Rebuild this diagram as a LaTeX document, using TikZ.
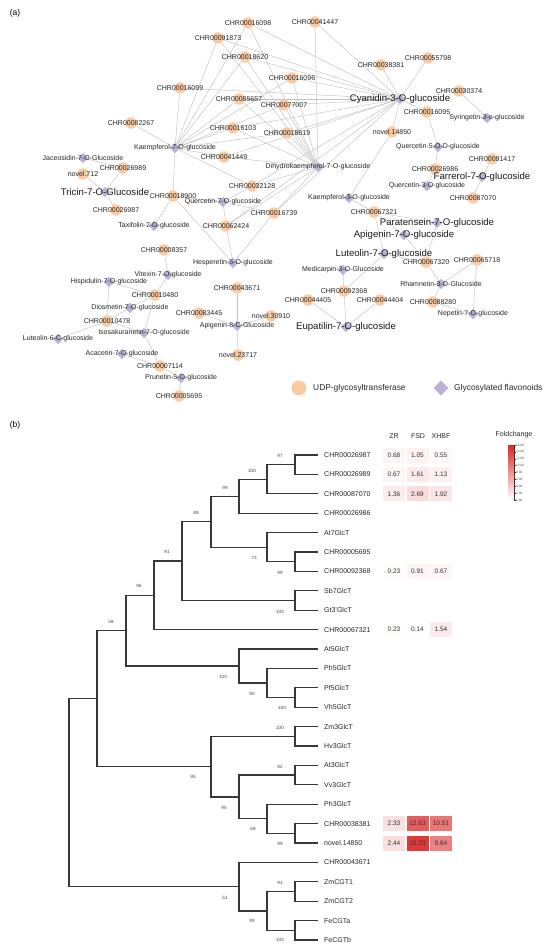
\documentclass[tikz,border=0pt]{standalone}
\usepackage{fontspec}
\setmainfont{Liberation Sans}
\usepackage{tikz}
\usetikzlibrary{shapes.geometric, backgrounds}
\definecolor{ugtfill}{RGB}{250,203,163}
\definecolor{flvfill}{RGB}{187,177,213}
\definecolor{hm}{RGB}{222,38,38}

\begin{document}
\begin{tikzpicture}[x=1pt, y=-1pt]
		\tikzset{ugt/.style={circle, fill=ugtfill, inner sep=0, minimum size=11.5pt}}
		\tikzset{flv/.style={diamond, fill=flvfill, inner sep=0, minimum size=10.5pt}}
		\tikzset{lab/.style={font=\fontsize{7}{8}\selectfont, text=black!85, inner sep=0}}
		\tikzset{biglab/.style={font=\fontsize{9.6}{11}\selectfont, text=black!90, inner sep=0}}
		\tikzset{link/.style={draw=black!24, line width=0.45pt}}
		\tikzset{branch/.style={draw=black!78, line width=1.25pt}}
		\tikzset{leaf/.style={anchor=west, inner xsep=6pt, inner ysep=0, font=\fontsize{7}{8}\selectfont, text=black!85}}
		\tikzset{boot/.style={font=\fontsize{4.6}{5}\selectfont, text=black!75, inner sep=0}}
		\tikzset{cell/.style={minimum width=22pt, minimum height=15pt, inner sep=0, font=\fontsize{6.5}{7}\selectfont, text=black!80}}
		\tikzset{panel/.style={font=\fontsize{8.5}{10}\selectfont, inner sep=0}}
		\useasboundingbox (0,0) rectangle (550,952);
		\node[panel] at (15,13) (pa) {(a)};
		\node[panel] at (15,425) (pb) {(b)};
		% UDP-glycosyltransferases
		\node[ugt, label={[lab]center:CHR00016098}] at (248,23) (g16098) {};
		\node[ugt, label={[lab]center:CHR00091873}] at (218,38) (g91873) {};
		\node[ugt, label={[lab]center:CHR00041447}] at (315,22) (g41447) {};
		\node[ugt, label={[lab]center:CHR00018620}] at (245,57) (g18620) {};
		\node[ugt, label={[lab]center:CHR00055798}] at (428,58) (g55798) {};
		\node[ugt, label={[lab]center:CHR00038381}] at (381,65) (g38381) {};
		\node[ugt, label={[lab]center:CHR00016096}] at (292,78) (g16096) {};
		\node[ugt, label={[lab]center:CHR00016099}] at (180,88) (g16099) {};
		\node[ugt, label={[lab]center:CHR00030374}] at (459,91) (g30374) {};
		\node[ugt, label={[lab]center:CHR00085657}] at (239,99) (g85657) {};
		\node[ugt, label={[lab]center:CHR00077007}] at (284,105) (g77007) {};
		\node[ugt, label={[lab]center:CHR00016095}] at (427,112) (g16095) {};
		\node[ugt, label={[lab]center:CHR00082267}] at (131,123) (g82267) {};
		\node[ugt, label={[lab]center:CHR00016103}] at (233,128) (g16103) {};
		\node[ugt, label={[lab]center:CHR00018619}] at (287,133) (g18619) {};
		\node[ugt, label={[lab]center:novel.14850}] at (392,132) (gn14850) {};
		\node[ugt, label={[lab]center:CHR00041449}] at (224,157) (g41449) {};
		\node[ugt, label={[lab]center:CHR00026989}] at (123,168) (g26989) {};
		\node[ugt, label={[lab]center:novel.712}] at (83,174) (gn712) {};
		\node[ugt, label={[lab]center:CHR00091417}] at (492,159) (g91417) {};
		\node[ugt, label={[lab]center:CHR00026986}] at (435,169) (g26986) {};
		\node[ugt, label={[lab]center:CHR00032128}] at (252,186) (g32128) {};
		\node[ugt, label={[lab]center:CHR00018900}] at (173,196) (g18900) {};
		\node[ugt, label={[lab]center:CHR00087070}] at (473,198) (g87070) {};
		\node[ugt, label={[lab]center:CHR00026987}] at (116,210) (g26987) {};
		\node[ugt, label={[lab]center:CHR00016739}] at (274,213) (g16739) {};
		\node[ugt, label={[lab]center:CHR00067321}] at (374,212) (g67321) {};
		\node[ugt, label={[lab]center:CHR00062424}] at (226,226) (g62424) {};
		\node[ugt, label={[lab]center:CHR00008357}] at (164,250) (g8357) {};
		\node[ugt, label={[lab]center:CHR00067320}] at (426,262) (g67320) {};
		\node[ugt, label={[lab]center:CHR00065718}] at (477,260) (g65718) {};
		\node[ugt, label={[lab]center:CHR00043671}] at (237,288) (g43671) {};
		\node[ugt, label={[lab]center:CHR00092368}] at (344,291) (g92368) {};
		\node[ugt, label={[lab]center:CHR00010480}] at (155,295) (g10480) {};
		\node[ugt, label={[lab]center:CHR00044405}] at (308,300) (g44405) {};
		\node[ugt, label={[lab]center:CHR00044404}] at (380,300) (g44404) {};
		\node[ugt, label={[lab]center:CHR00088280}] at (433,302) (g88280) {};
		\node[ugt, label={[lab]center:CHR00083445}] at (199,313) (g83445) {};
		\node[ugt, label={[lab]center:novel.30910}] at (271,316) (gn30910) {};
		\node[ugt, label={[lab]center:CHR00010478}] at (107,321) (g10478) {};
		\node[ugt, label={[lab]center:novel.23717}] at (238,355) (gn23717) {};
		\node[ugt, label={[lab]center:CHR00007114}] at (160,366) (g7114) {};
		\node[ugt, label={[lab]center:CHR00005695}] at (179,396) (g5695) {};
		% glycosylated flavonoids
		\node[flv, label={[biglab]center:Cyanidin-3-O-glucoside}] at (400,99) (cya) {};
		\node[flv, label={[lab]center:Syringetin-3-o-glucoside}] at (487,118) (syr) {};
		\node[flv, label={[lab]center:Kaempferol-7-O-glucoside}] at (175,148) (kae7) {};
		\node[flv, label={[lab]center:Quercetin-5-O-D-glucoside}] at (438,147) (q5d) {};
		\node[flv, label={[lab]center:Jaceosidin-7-O-Glucoside}] at (83,158) (jac) {};
		\node[flv, label={[lab]center:Dihydrokaempferol-7-O-glucoside}] at (318,167) (dk7) {};
		\node[flv, label={[biglab]center:Farrerol-7-O-glucoside}] at (482,177) (farr) {};
		\node[flv, label={[lab]center:Quercetin-3-O-glucoside}] at (427,186) (q3) {};
		\node[flv, label={[biglab]center:Tricin-7-O-Glucoside}] at (105,192) (tri) {};
		\node[flv, label={[lab]center:Kaempferol-3-O-glucoside}] at (349,198) (kae3) {};
		\node[flv, label={[lab]center:Quercetin-7-O-glucoside}] at (223,202) (q7) {};
		\node[flv, label={[biglab]center:Paratensein-7-O-glucoside}] at (437,223) (par) {};
		\node[flv, label={[lab]center:Taxifolin-2-O-glucoside}] at (154,226) (tax) {};
		\node[flv, label={[biglab]center:Apigenin-7-O-glucoside}] at (404,235) (api7) {};
		\node[flv, label={[biglab]center:Luteolin-7-O-glucoside}] at (384,254) (lut7) {};
		\node[flv, label={[lab]center:Hesperetin-5-O-glucoside}] at (233,263) (hes) {};
		\node[flv, label={[lab]center:Medicarpin-3-O-Glucoside}] at (343,270) (med) {};
		\node[flv, label={[lab]center:Vitexin-7-O-glucoside}] at (168,275) (vit) {};
		\node[flv, label={[lab]center:Hispidulin-7-O-glucoside}] at (109,282) (his) {};
		\node[flv, label={[lab]center:Rhamnetin-3-O-Glucoside}] at (441,284) (rha) {};
		\node[flv, label={[lab]center:Diosmetin-7-O-glucoside}] at (130,308) (dio) {};
		\node[flv, label={[lab]center:Nepetin-7-O-glucoside}] at (473,314) (nep) {};
		\node[flv, label={[lab]center:Apigenin-8-C-Glucoside}] at (237,326) (ap8c) {};
		\node[flv, label={[biglab]center:Eupatilin-7-O-glucoside}] at (346,327) (eup) {};
		\node[flv, label={[lab]center:Isosakuranetin-7-O-glucoside}] at (144,333) (iso) {};
		\node[flv, label={[lab]center:Luteolin-6-C-glucoside}] at (58,339) (lut6) {};
		\node[flv, label={[lab]center:Acacetin-7-O-glucoside}] at (122,354) (aca) {};
		\node[flv, label={[lab]center:Prunetin-5-O-glucoside}] at (181,378) (pru) {};
		\begin{scope}[on background layer]
			\path[link] (cya) edge (g16098) edge (g91873) edge (g41447) edge (g18620) edge (g16099) edge (g16096)
				edge (g85657) edge (g77007) edge (g18619) edge (g16103) edge (g38381) edge (g55798) edge (g16095)
				edge (gn14850) edge (g41449) edge (g32128) edge (g16739) edge (g62424);
			\path[link] (kae7) edge (g91873) edge (g18620) edge (g16099) edge (g85657) edge (g82267) edge (g16103)
				edge (g41449) edge (g18619) edge (g16096) edge (g16098) edge (g18900) edge (g32128) edge (g77007);
			\path[link] (dk7) edge (g18620) edge (g16096) edge (g77007) edge (g18619) edge (g85657) edge (g16103)
				edge (g41449) edge (g32128) edge (g16739) edge (g16098) edge (g41447) edge (g91873) edge (g62424);
			\path[link] (q7) edge (g18900) edge (g32128) edge (g62424) edge (g16739);
			\path[link] (hes) edge (g18900) edge (g62424) edge (g16739);
			\path[link] (tax) edge (g18900);
			\path[link] (tri) edge (g26989) edge (gn712) edge (g26987);
			\path[link] (jac) edge (g26989);
			\path[link] (vit) edge (g8357) edge (g10480);
			\path[link] (his) edge (g10478) edge (g10480);
			\path[link] (dio) edge (g10480) edge (g10478);
			\path[link] (iso) edge (g10478) edge (g10480) edge (g7114);
			\path[link] (lut6) edge (g10478);
			\path[link] (aca) edge (g7114);
			\path[link] (pru) edge (g7114) edge (g5695);
			\path[link] (ap8c) edge (g43671) edge (g83445) edge (gn30910) edge (gn23717);
			\path[link] (q5d) edge (g16095) edge (g26986);
			\path[link] (q3) edge (g26986);
			\path[link] (farr) edge (g91417) edge (g87070);
			\path[link] (syr) edge (g30374);
			\path[link] (kae3) edge (gn14850) edge (g67321);
			\path[link] (par) edge (g67321) edge (g67320);
			\path[link] (api7) edge (g67321) edge (g67320);
			\path[link] (lut7) edge (g67321) edge (g67320) edge (g92368);
			\path[link] (rha) edge (g67320) edge (g65718) edge (g88280);
			\path[link] (nep) edge (g65718) edge (g88280);
			\path[link] (med) edge (g92368);
			\path[link] (eup) edge (g44405) edge (g44404) edge (g92368);
		\end{scope}
		% legend
		\node[ugt, minimum size=15pt] at (299,388) (legu) {};
		\node[anchor=west, inner sep=0, font=\fontsize{8.4}{10}\selectfont, text=black!85] at (313,388) (legut) {UDP-glycosyltransferase};
		\node[flv, minimum size=15pt] at (441,388) (legf) {};
		\node[anchor=west, inner sep=0, font=\fontsize{8.4}{10}\selectfont, text=black!85] at (454,388) (legft) {Glycosylated flavonoids};
		% tree
		\foreach \nm [count=\i] in {CHR00026987, CHR00026989, CHR00087070, CHR00026986, At7GlcT, CHR00005695,
			CHR00092368, Sb7GlcT, Gt3'GlcT, CHR00067321, At5GlcT, Ph5GlcT, Pf5GlcT, Vh5GlcT, Zm3GlcT, Hv3GlcT,
			At3GlcT, Vv3GlcT, Ph3GlcT, CHR00038381, novel.14850, CHR00043671, ZmCGT1, ZmCGT2, FeCGTa, FeCGTb}
			\node[leaf] at (318, {455+19.4*(\i-1)}) (t\i) {\nm};
		\coordinate (n1) at (295,464.7);
		\coordinate (n2) at (267,479.25);
		\coordinate (n3) at (239,496.2);
		\coordinate (n4) at (295,561.7);
		\coordinate (n5) at (267,547.15);
		\coordinate (n6) at (211,521.7);
		\coordinate (n7) at (295,600.5);
		\coordinate (n8) at (182,561.1);
		\coordinate (n9) at (154,595.35);
		\coordinate (n10) at (295,697.5);
		\coordinate (n11) at (267,682.95);
		\coordinate (n12) at (239,665.97);
		\coordinate (n13) at (126,630.66);
		\coordinate (n14) at (295,736.3);
		\coordinate (n15) at (295,775.1);
		\coordinate (n16) at (295,833.3);
		\coordinate (n17) at (267,818.75);
		\coordinate (n18) at (239,796.9);
		\coordinate (n19) at (211,766.6);
		\coordinate (n20) at (97,698.6);
		\coordinate (n21) at (295,891.5);
		\coordinate (n22) at (295,930.3);
		\coordinate (n23) at (267,910.9);
		\coordinate (n24) at (239,886.65);
		\coordinate (root) at (69,792.6);
		\draw[branch] (n1) |- (t1.west) (n1) |- (t2.west);
		\draw[branch] (n2) |- (n1) (n2) |- (t3.west);
		\draw[branch] (n3) |- (n2) (n3) |- (t4.west);
		\draw[branch] (n4) |- (t6.west) (n4) |- (t7.west);
		\draw[branch] (n5) |- (t5.west) (n5) |- (n4);
		\draw[branch] (n6) |- (n3) (n6) |- (n5);
		\draw[branch] (n7) |- (t8.west) (n7) |- (t9.west);
		\draw[branch] (n8) |- (n6) (n8) |- (n7);
		\draw[branch] (n9) |- (n8) (n9) |- (t10.west);
		\draw[branch] (n10) |- (t13.west) (n10) |- (t14.west);
		\draw[branch] (n11) |- (t12.west) (n11) |- (n10);
		\draw[branch] (n12) |- (t11.west) (n12) |- (n11);
		\draw[branch] (n13) |- (n9) (n13) |- (n12);
		\draw[branch] (n14) |- (t15.west) (n14) |- (t16.west);
		\draw[branch] (n15) |- (t17.west) (n15) |- (t18.west);
		\draw[branch] (n16) |- (t20.west) (n16) |- (t21.west);
		\draw[branch] (n17) |- (t19.west) (n17) |- (n16);
		\draw[branch] (n18) |- (n15) (n18) |- (n17);
		\draw[branch] (n19) |- (n14) (n19) |- (n18);
		\draw[branch] (n20) |- (n13) (n20) |- (n19);
		\draw[branch] (n21) |- (t23.west) (n21) |- (t24.west);
		\draw[branch] (n22) |- (t25.west) (n22) |- (t26.west);
		\draw[branch] (n23) |- (n21) (n23) |- (n22);
		\draw[branch] (n24) |- (t22.west) (n24) |- (n23);
		\draw[branch] (root) |- (n20) (root) |- (n24);
		% bootstrap values
		\foreach \bx/\by/\bv [count=\j] in {280/456/97, 252/471/100, 225/488/99, 196/513/89, 254/558/73, 280/573/99,
			280/612/100, 167/552/91, 139/586/96, 111/622/58, 223/677/100, 252/694/90, 282/708/100, 280/728/100,
			280/767/82, 193/777/95, 224/808/95, 253/829/69, 280/844/99, 225/898/51, 252/921/99, 280/883/91, 280/940/100}
			\node[boot] at (\bx,\by) (bs\j) {\bv};
		% heat map
		\node[lab] at (394,436) (hzr) {ZR};
		\node[lab] at (418,436) (hfsd) {FSD};
		\node[lab] at (441,436) (hxhbf) {XHBF};
		\foreach \y/\va/\vb/\vc [count=\r] in {455/0.68/1.05/0.55, 474.4/0.67/1.61/1.13, 493.8/1.36/2.69/1.92,
			571.4/0.23/0.91/0.67, 629.6/0.23/0.14/1.54, 823.6/2.33/12.63/10.51, 843/2.44/15.23/9.64}
			\foreach \v [count=\k] in {\va,\vb,\vc} {
				\pgfmathsetmacro\pc{6*\v}
				\node[cell, fill=hm!\pc!white] at ({370.5+23.5*\k},\y) (hm\r\k) {\v};
			}
		% colour bar
		\node[lab] at (514,435) (fc) {Foldchange};
		\shade[top color=hm, bottom color=white] (508,445) rectangle (514,500);
		\draw[black!80, line width=0.3pt] (514.3,445) -- (514.3,500);
		\foreach \t [count=\i] in {16.00,14.00,12.00,10.00,8.00,6.00,4.00,2.00,0.00} {
			\draw[black!80, line width=0.3pt] (514.3,{445+55/8*(\i-1)}) -- ++(1.5,0);
			\node[anchor=west, inner sep=0, font=\fontsize{3.2}{4}\selectfont, text=black!70] at (516,{445+55/8*(\i-1)}) (tk\i) {\t};
		}
	\end{tikzpicture}
\end{document}
